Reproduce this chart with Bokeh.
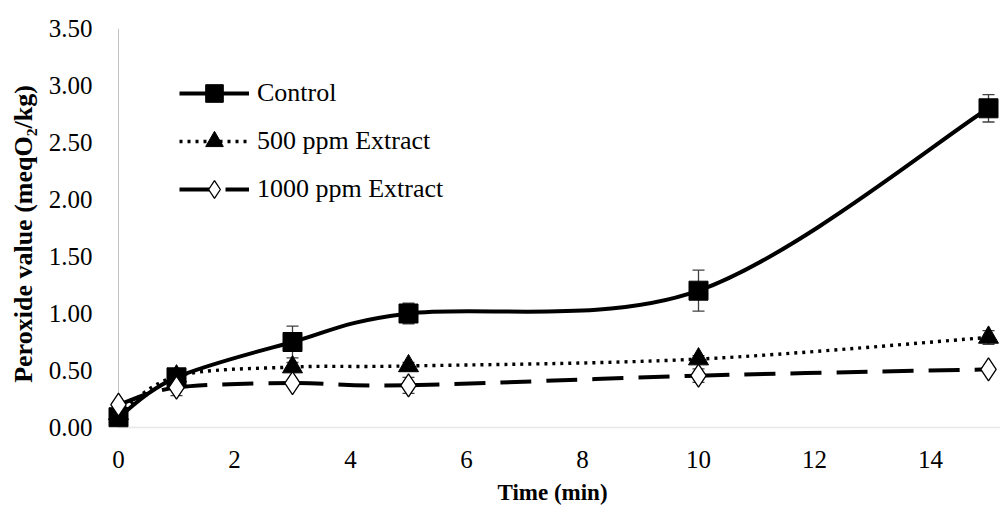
import numpy as np
from bokeh.plotting import figure
from bokeh.models import (ColumnDataSource, Whisker, TeeHead, Legend, LegendItem,
                          Range1d, FixedTicker, NumeralTickFormatter, BoxAnnotation)
from bokeh.embed import file_html
from bokeh.resources import INLINE

# ---- data ----
time_min = [0, 1, 3, 5, 10, 15]
control = [0.09, 0.44, 0.75, 1.00, 1.20, 2.80]
control_err = [0.02, 0.03, 0.14, 0.09, 0.18, 0.12]
ppm500 = [0.12, 0.45, 0.53, 0.54, 0.60, 0.79]
ppm500_err = [0.01, 0.02, 0.04, 0.03, 0.03, 0.06]
ppm1000 = [0.20, 0.35, 0.39, 0.37, 0.455, 0.51]
ppm1000_err = [0.01, 0.07, 0.02, 0.07, 0.06, 0.02]
x_ticks = [0, 2, 4, 6, 8, 10, 12, 14]
y_ticks = [0.0, 0.5, 1.0, 1.5, 2.0, 2.5, 3.0, 3.5]
series_names = ["Control", "500 ppm Extract", "1000 ppm Extract"]
y_max = 3.5

FONT = "Liberation Serif"

p = figure(width=1000, height=509, output_backend="svg", toolbar_location=None,
           x_range=Range1d(-14 / 58, 882 / 58), y_range=Range1d(-12 / 114, y_max),
           min_border_left=104, min_border_right=0, min_border_top=28,
           min_border_bottom=70)
p.outline_line_color = None
p.grid.visible = False
p.background_fill_color = "white"

p.xaxis.ticker = FixedTicker(ticks=x_ticks)
p.yaxis.ticker = FixedTicker(ticks=y_ticks)
p.yaxis.formatter = NumeralTickFormatter(format="0.00")
for ax in (p.xaxis, p.yaxis):
    ax.axis_line_color = None
    ax.major_tick_line_color = None
    ax.minor_tick_line_color = None
    ax.major_label_text_font = FONT
    ax.major_label_text_font_size = "25px"
    ax.major_label_text_color = "black"
    ax.axis_label_text_font = FONT
    ax.axis_label_text_font_style = "bold"
    ax.axis_label_text_color = "black"
p.xaxis.axis_label_text_font_size = "23px"
p.yaxis.axis_label_text_font_size = "26px"
p.xaxis.major_label_standoff = 5
p.yaxis.major_label_standoff = 6
p.xaxis.axis_label = "Time (min)"
p.yaxis.axis_label = "Peroxide value (meqO\u2082/kg)"
p.xaxis.axis_label_standoff = 9
p.yaxis.axis_label_standoff = 8

# axis lines at x = 0 and y = 0
p.add_layout(BoxAnnotation(left=0, bottom=0, top=0, fill_alpha=0,
                           line_color="#b3b3b3", line_width=1.5, level="underlay"))
p.add_layout(BoxAnnotation(left=0, right=0, bottom=0, top=y_max, fill_alpha=0,
                           line_color="#8c8c8c", line_width=1, level="underlay"))


def bezier_source(xs, ys):
    n = len(xs)
    d = dict(x0=[], y0=[], x1=[], y1=[], cx0=[], cy0=[], cx1=[], cy1=[])
    for i in range(n - 1):
        ip = max(i - 1, 0)
        inx = min(i + 2, n - 1)
        d["x0"].append(xs[i]); d["y0"].append(ys[i])
        d["x1"].append(xs[i + 1]); d["y1"].append(ys[i + 1])
        d["cx0"].append(xs[i] + (xs[i + 1] - xs[ip]) / 6)
        d["cy0"].append(ys[i] + (ys[i + 1] - ys[ip]) / 6)
        d["cx1"].append(xs[i + 1] - (xs[inx] - xs[i]) / 6)
        d["cy1"].append(ys[i + 1] - (ys[inx] - ys[i]) / 6)
    return ColumnDataSource(d)


styles = [
    dict(line=dict(line_width=4), marker=dict(marker="square", size=19,
         fill_color="black", line_color="black")),
    dict(line=dict(line_width=3.4, line_dash="3 5"),
         marker=dict(marker="triangle", size=20, fill_color="black", line_color="black")),
    dict(line=dict(line_width=4, line_dash="31 15"),
         marker=dict(marker="diamond", size=23, fill_color="white",
                     line_color="black", line_width=1.3)),
]

items = []
for name, ys, errs, st in zip(series_names, [control, ppm500, ppm1000],
                              [control_err, ppm500_err, ppm1000_err], styles):
    src = ColumnDataSource(dict(x=time_min, y=ys,
                                upper=[a + b for a, b in zip(ys, errs)],
                                lower=[a - b for a, b in zip(ys, errs)]))
    wk = Whisker(source=src, base="x", upper="upper", lower="lower",
                 line_color="#404040", line_width=1.3, level="underlay",
                 upper_head=TeeHead(size=12, line_color="#404040", line_width=1.3),
                 lower_head=TeeHead(size=12, line_color="#404040", line_width=1.3))
    p.add_layout(wk)
    br = p.bezier(x0="x0", y0="y0", x1="x1", y1="y1", cx0="cx0", cy0="cy0",
                  cx1="cx1", cy1="cy1", source=bezier_source(time_min, ys),
                  line_color="black", **st["line"])
    sr = p.scatter("x", "y", source=src, **st["marker"])
    items.append(LegendItem(label=name, renderers=[br, sr]))

legend = Legend(items=items, location=(75, 228), glyph_width=70, glyph_height=44,
                spacing=4, padding=0, margin=0, label_standoff=8,
                border_line_color=None, background_fill_alpha=0,
                label_text_font=FONT, label_text_font_size="26px",
                label_text_color="black")
p.add_layout(legend)

open("out.html", "w").write(file_html(p, INLINE))
